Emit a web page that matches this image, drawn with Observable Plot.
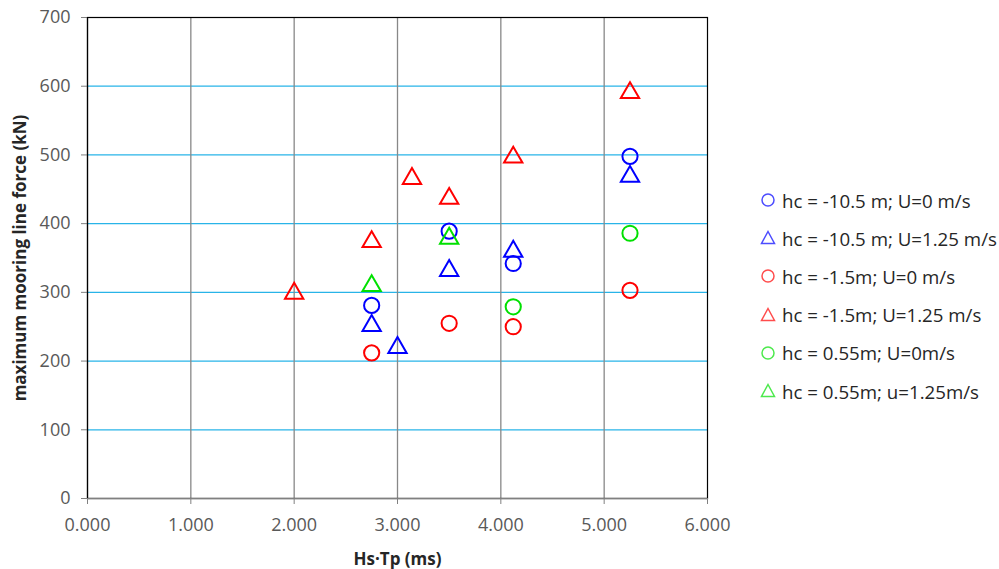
<!DOCTYPE html>
<html><head><meta charset="utf-8">
<script src="https://cdn.jsdelivr.net/npm/d3@7"></script>
<script src="https://cdn.jsdelivr.net/npm/@observablehq/plot@0.6"></script>
<style>
body{margin:0;background:#fff;font-family:"Open Sans",sans-serif;}
#wrap{position:relative;width:999px;height:569px;}
#legend{position:absolute;left:759px;top:181px;font-size:18.7px;color:#262626;}
#legend div{height:38.2px;display:flex;align-items:center;white-space:nowrap;}
#legend svg{margin-right:5px;}
[aria-label$="tick label"], [aria-label$="tick label"] text{font-size:18px !important;fill:#595959;}
[aria-label="y-axis label"], [aria-label="y-axis label"] text{font-size:17px !important;font-weight:bold;fill:#262626;}
</style></head>
<body><div id="wrap"><div id="chart"></div><div id="legend"></div></div>
<script>
const seriesNames = ["hc = -10.5 m; U=0 m/s","hc = -10.5 m; U=1.25 m/s","hc = -1.5m; U=0 m/s","hc = -1.5m; U=1.25 m/s","hc = 0.55m; U=0m/s","hc = 0.55m; u=1.25m/s"];
const seriesColors = ["#0000ff","#0000ff","#ff0000","#ff0000","#00e000","#00e000"];
const seriesSymbols = ["circle","triangle","circle","triangle","circle","triangle"];
const s1x = [2.75,3.5,4.12,5.25], s1y = [281,389,342,498];
const s2x = [2.75,3.0,3.5,4.12,5.25], s2y = [253,221,333,361,470];
const s3x = [2.75,3.5,4.12,5.25], s3y = [212,255,250,303];
const s4x = [2.0,2.75,3.14,3.5,4.12,5.25], s4y = [300,375,467,438,498,592];
const s5x = [4.12,5.25], s5y = [279,386];
const s6x = [2.75,3.5], s6y = [311,380];
const xTicks = [0,1,2,3,4,5,6];
const yTicks = [0,100,200,300,400,500,600,700];
const xTitle = "Hs·Tp (ms)";
const yTitle = "maximum mooring line force (kN)";

const allX = [s1x,s2x,s3x,s4x,s5x,s6x], allY=[s1y,s2y,s3y,s4y,s5y,s6y];
const data = [];
allX.forEach((xs,i)=>xs.forEach((x,j)=>data.push({x, y: allY[i][j], s: i})));
const circles = data.filter(d=>seriesSymbols[d.s]==="circle");
const triangles = data.filter(d=>seriesSymbols[d.s]==="triangle");

const chart = Plot.plot({
  width: 999, height: 569,
  marginLeft: 87, marginRight: 292, marginTop: 17, marginBottom: 71,
  style: {fontFamily: "'Open Sans', sans-serif", fontSize: "18px", color: "#595959", background: "#fff"},
  x: {domain: [0,6]},
  y: {domain: [0,700]},
  marks: [
    Plot.ruleY(yTicks.filter(d=>d>0 && d<700), {stroke: "#29b4e8", strokeWidth: 1.3}),
    Plot.ruleX(xTicks.filter(d=>d>0 && d<6), {stroke: "#888888", strokeWidth: 1.3}),
    Plot.frame({stroke: "#000", strokeWidth: 1.2}),
    Plot.axisX({ticks: xTicks, tickFormat: d3.format(".3f"), tickSize: 6, tickPadding: 14, label: null, stroke:"#808080"}),
    Plot.axisY({ticks: yTicks, tickSize: 6, tickPadding: 11, label: yTitle, labelAnchor: "center", labelOffset: 74, labelArrow: "none", stroke:"#808080"}),
    Plot.ruleY([0], {stroke: "#808080", strokeWidth: 1.4}),
    Plot.ruleX([0], {stroke: "#000", strokeWidth: 1.2}),
    Plot.dot(circles, {x: "x", y: "y", r: 7.6, stroke: d => seriesColors[d.s], symbol: "circle", strokeWidth: 2, fill: "none"}),
    Plot.dot(triangles, {x: "x", y: "y", r: 6.8, stroke: d => seriesColors[d.s], symbol: "triangle", strokeWidth: 2, fill: "none", dy: 1}),
    Plot.text([xTitle], {frameAnchor: "bottom", dy: 66, fontWeight: "bold", fontSize: 17, fill: "#262626"})
  ]
});
document.getElementById("chart").append(chart);

const leg = document.getElementById("legend");
seriesNames.forEach((name,i)=>{
  const div = document.createElement("div");
  const sym = seriesSymbols[i]==="circle"
    ? `<circle cx="9" cy="9" r="6" fill="none" stroke="${seriesColors[i]}" stroke-width="1.5" opacity="0.7"/>`
    : `<path d="M9,2.5 L15.5,14.5 L2.5,14.5 Z" fill="none" stroke="${seriesColors[i]}" stroke-width="1.5" opacity="0.7"/>`;
  div.innerHTML = `<svg width="18" height="18">${sym}</svg><span>${name}</span>`;
  leg.append(div);
});
</script></body></html>
